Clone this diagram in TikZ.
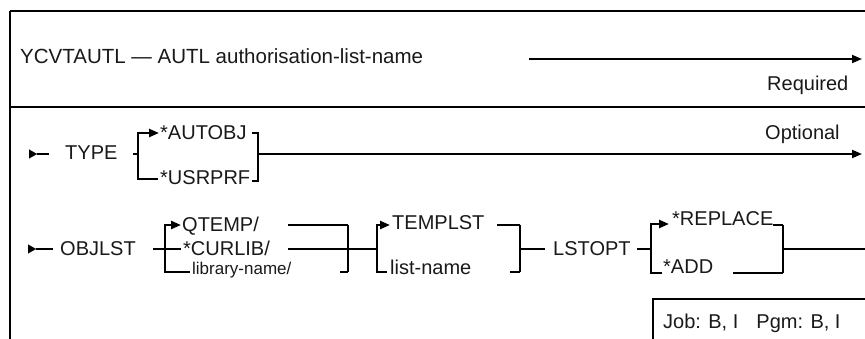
\documentclass[tikz,border=0pt]{standalone}
\usepackage{fontspec}
\setmainfont{Liberation Sans}
\usetikzlibrary{arrows.meta}
\begin{document}
\begin{tikzpicture}[x=1pt,y=-1pt,
  lbl/.style={inner sep=0pt, anchor=base west, font=\fontsize{20}{24}\selectfont, text=black!90},
  ln/.style={line width=1.8pt},
  br/.style={line width=2.4pt},
  arr/.style={-{Triangle[length=10pt,width=8pt]}},
  lead/.style={-{Triangle[length=8pt,width=9pt]}},
  frm/.style={line width=2pt}]
\useasboundingbox (0,0) rectangle (865,339);
% frame
\coordinate (fBL) at (10,339); \coordinate (fTL) at (10,11); \coordinate (fTR) at (865,11);
\coordinate (sL) at (10,107); \coordinate (sR) at (865,107);
\draw[frm,line width=2.6pt] (fBL) -- (fTL);
\draw[frm] (fTL) -- (fTR);
\draw[frm,line width=2.6pt] (sL) -- (sR);
% row 1
\node[lbl,font=\fontsize{20.5}{24}\selectfont] (cmd) at (20,64) {YCVTAUTL — AUTL authorisation-list-name};
\coordinate (r1s) at (529,59); \coordinate (r1e) at (862,59);
\draw[ln,arr] (r1s) -- (r1e);
\node[lbl] (req) at (767,91) {Required};
% row 2
\coordinate (t0) at (29,154); \coordinate (t0b) at (37,154); \coordinate (t1) at (49,154);
\draw[line width=0.1pt,lead] (t0) -- (t0b);
\draw[ln] (t0b) -- (t1);
\node[lbl] (type) at (65,160) {TYPE};
\node[lbl] (auto) at (160,140) {*AUTOBJ};
\node[lbl] (usr) at (160,185) {*USRPRF};
\coordinate (tL) at (133,154); \coordinate (tB) at (138,154);
\coordinate (tTop) at (138,133); \coordinate (tBot) at (138,179);
\coordinate (tTopE) at (159,133); \coordinate (tBotE) at (158,179);
\draw[ln] (tL) -- (tB);
\draw[br,arr] (tBotE) -- (tBot) -- (tTop) -- (tTopE);
\coordinate (rT1) at (252,133); \coordinate (rT2) at (258,133);
\coordinate (rB2) at (258,181); \coordinate (rB1) at (252,181);
\draw[br] (rT1) -- (rT2) -- (rB2) -- (rB1);
\coordinate (tM) at (258,154); \coordinate (tE) at (862,154);
\draw[ln,arr] (tM) -- (tE);
\node[lbl] (opt) at (765,140) {Optional};
% row 3
\coordinate (o0) at (28,249); \coordinate (o0b) at (36,249); \coordinate (o1) at (53,249);
\draw[line width=0.1pt,lead] (o0) -- (o0b);
\draw[ln] (o0b) -- (o1);
\node[lbl] (objlst) at (60,256) {OBJLST};
\node[lbl] (qtemp) at (182,232) {QTEMP/};
\node[lbl] (curlib) at (183,256) {*CURLIB/};
\node[lbl,font=\fontsize{17}{20}\selectfont] (libn) at (192,275) {library-name/};
\coordinate (oL) at (153,249); \coordinate (oC) at (181,249);
\coordinate (oTop) at (165,225); \coordinate (oBot) at (165,272);
\coordinate (oTopE) at (181,225); \coordinate (oBotE) at (190,272);
\draw[ln] (oL) -- (oC);
\draw[br,arr] (oBotE) -- (oBot) -- (oTop) -- (oTopE);
\coordinate (qR1) at (288,225); \coordinate (qR2) at (348,225);
\coordinate (cR1) at (288,249); \coordinate (cR2) at (377,249);
\coordinate (lR1) at (340,272); \coordinate (lR2) at (348,272);
\draw[ln] (qR1) -- (qR2);
\draw[ln] (cR1) -- (cR2);
\draw[ln] (lR1) -- (lR2);
\draw[br] (qR2) -- (lR2);
% TEMPLST group
\node[lbl] (templst) at (392,230) {TEMPLST};
\node[lbl] (listn) at (390,275) {list-name};
\coordinate (pTop) at (377,225); \coordinate (pBot) at (377,272);
\coordinate (pTopE) at (390,225); \coordinate (pBotE) at (387,272);
\draw[br,arr] (pBotE) -- (pBot) -- (pTop) -- (pTopE);
\coordinate (pR1) at (497,225); \coordinate (pR2) at (520,225);
\coordinate (pS1) at (510,272); \coordinate (pS2) at (520,272);
\coordinate (pM) at (520,249); \coordinate (pM2) at (545,249);
\draw[ln] (pR1) -- (pR2);
\draw[ln] (pS1) -- (pS2);
\draw[br] (pR2) -- (pS2);
\draw[ln] (pM) -- (pM2);
% LSTOPT
\node[lbl] (lstopt) at (553,256) {LSTOPT};
\node[lbl] (repl) at (672,226) {*REPLACE};
\node[lbl] (add) at (663,273) {*ADD};
\coordinate (sL1) at (637,249); \coordinate (sL2) at (651,249);
\coordinate (sTop) at (651,224); \coordinate (sBot) at (651,273);
\coordinate (sTopE) at (669,224); \coordinate (sBotE) at (662,273);
\draw[ln] (sL1) -- (sL2);
\draw[br,arr] (sBotE) -- (sBot) -- (sTop) -- (sTopE);
\coordinate (sR1) at (773,225); \coordinate (sR2) at (783,225);
\coordinate (sA1) at (733,273); \coordinate (sA2) at (783,273);
\coordinate (sM) at (783,249); \coordinate (sE) at (865,249);
\draw[ln] (sR1) -- (sR2);
\draw[ln] (sA1) -- (sA2);
\draw[br] (sR2) -- (sA2);
\draw[ln] (sM) -- (sE);
% Job box
\coordinate (jB) at (653,339); \coordinate (jT) at (653,299); \coordinate (jR) at (865,299);
\draw[frm,line width=2.6pt] (jB) -- (jT) -- (jR);
\node[lbl] (job) at (663,328) {Job: B, I\hspace{18pt}Pgm: B, I};
\end{tikzpicture}
\end{document}
